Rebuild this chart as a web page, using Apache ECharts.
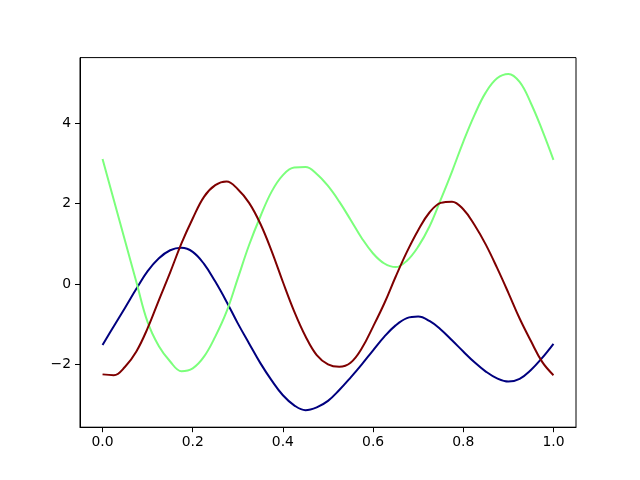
<!DOCTYPE html>
<html>
<head>
<meta charset="utf-8">
<script src="https://cdn.jsdelivr.net/npm/echarts@6/dist/echarts.min.js"></script>
<style>html,body{margin:0;padding:0;background:#fff}#c{width:640px;height:480px}</style>
</head>
<body>
<div id="c"></div>
<script>
const xs = [0,0.025,0.05,0.075,0.10,0.125,0.15,0.175,0.20,0.225,0.25,0.275,0.30,0.325,0.35,0.375,0.40,0.425,0.45,0.475,0.50,0.525,0.55,0.575,0.60,0.625,0.65,0.675,0.70,0.725,0.75,0.775,0.80,0.825,0.85,0.875,0.90,0.925,0.95,0.975,1.0];

const blueY = [-1.52,-1.05,-0.59,-0.12,0.32,0.64,0.84,0.90,0.80,0.50,0.06,-0.44,-0.98,-1.48,-1.97,-2.40,-2.77,-3.02,-3.14,-3.07,-2.91,-2.64,-2.33,-2.00,-1.65,-1.31,-1.03,-0.85,-0.81,-0.92,-1.13,-1.40,-1.68,-1.95,-2.18,-2.35,-2.43,-2.36,-2.14,-1.84,-1.49];

const greenY = [3.11,2.09,1.07,0.05,-0.95,-1.55,-1.93,-2.17,-2.10,-1.81,-1.31,-0.69,0.14,0.97,1.68,2.30,2.71,2.90,2.91,2.74,2.44,2.05,1.60,1.14,0.76,0.51,0.42,0.58,0.93,1.43,2.10,2.80,3.54,4.21,4.77,5.12,5.23,5.03,4.50,3.83,3.09];

const redY = [-2.25,-2.27,-2.06,-1.68,-1.10,-0.40,0.29,1.01,1.63,2.17,2.46,2.55,2.36,2.02,1.50,0.82,0.05,-0.68,-1.30,-1.77,-2.00,-2.06,-1.96,-1.60,-1.06,-0.48,0.18,0.80,1.34,1.78,2.02,2.05,1.86,1.47,0.98,0.40,-0.22,-0.86,-1.42,-1.94,-2.27];

const xTicks = [0, 0.2, 0.4, 0.6, 0.8, 1.0];
const xTickLabels = ['0.0', '0.2', '0.4', '0.6', '0.8', '1.0'];
const yTicks = [-2, 0, 2, 4];
const yTickLabels = ['\u22122', '0', '2', '4'];

const zip = (x, y) => x.map((v, i) => [v, y[i]]);
const font = 'DejaVu Sans';

const chart = echarts.init(document.getElementById('c'), null, {renderer: 'canvas'});
chart.setOption({
  animation: false,
  backgroundColor: '#fff',
  grid: {left: 80, right: 64, top: 57.6, bottom: 52.8, show: true, borderColor: '#000', borderWidth: 1, backgroundColor: 'transparent'},
  xAxis: {
    type: 'value', min: -0.05, max: 1.05,
    axisLine: {show: true, onZero: false, lineStyle: {color: '#000', width: 1}},
    axisTick: {show: true, length: 5, customValues: xTicks, lineStyle: {color: '#000', width: 1}},
    axisLabel: {show: true, margin: 8, customValues: xTicks, color: '#000', fontFamily: font, fontSize: 13.9,
      formatter: v => xTickLabels[xTicks.findIndex(t => Math.abs(t - v) < 1e-9)]},
    splitLine: {show: false}
  },
  yAxis: {
    type: 'value', min: -3.565, max: 5.636,
    axisLine: {show: true, onZero: false, lineStyle: {color: '#000', width: 1}},
    axisTick: {show: true, length: 5, customValues: yTicks, lineStyle: {color: '#000', width: 1}},
    axisLabel: {show: true, margin: 9, customValues: yTicks, color: '#000', fontFamily: font, fontSize: 13.9,
      formatter: v => yTickLabels[yTicks.findIndex(t => Math.abs(t - v) < 1e-9)]},
    splitLine: {show: false}
  },
  series: [
    {type: 'line', data: zip(xs, blueY), smooth: 0.4, showSymbol: false, lineStyle: {color: '#00007f', width: 2}, itemStyle: {color: '#00007f'}},
    {type: 'line', data: zip(xs, greenY), smooth: 0.4, showSymbol: false, lineStyle: {color: '#7bff7b', width: 2}, itemStyle: {color: '#7bff7b'}},
    {type: 'line', data: zip(xs, redY), smooth: 0.4, showSymbol: false, lineStyle: {color: '#7f0000', width: 2}, itemStyle: {color: '#7f0000'}}
  ]
});
</script>
</body>
</html>
